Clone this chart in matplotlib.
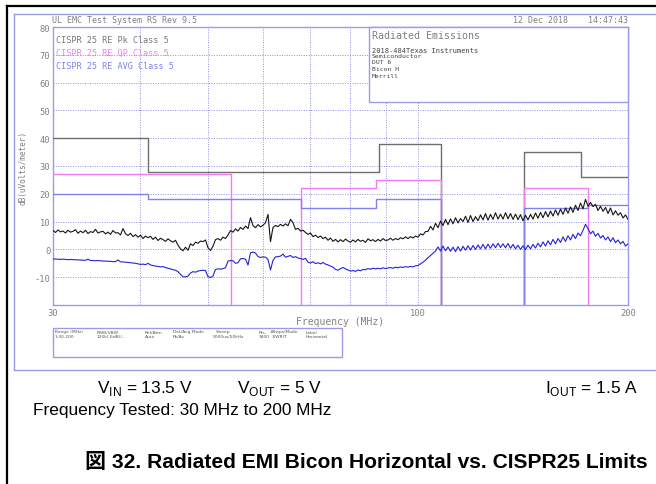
import numpy as np
import matplotlib
matplotlib.use("Agg")
import matplotlib.pyplot as plt
from matplotlib.lines import Line2D
from matplotlib.patches import Rectangle
from matplotlib.ticker import FixedLocator, NullLocator, FixedFormatter

plt.rcParams['mathtext.fontset'] = 'custom'
plt.rcParams['mathtext.rm'] = 'Liberation Sans'

# ---------------- data ----------------
sweep_start_mhz = 30
sweep_stop_mhz = 200

peak_dbuv = [
    6.8, 6.1, 7.0, 6.3, 6.6, 5.9, 6.9, 6.2, 6.5, 7.1,
    5.8, 6.6, 6.0, 6.9, 5.7, 6.4, 6.1, 7.2, 5.9, 6.3,
    6.5, 5.6, 6.2, 5.4, 6.8, 5.9, 6.0, 5.2, 7.5, 5.6,
    5.0, 5.8, 4.6, 5.3, 4.4, 5.1, 3.9, 4.8, 4.2, 4.7,
    3.6, 4.4, 3.2, 4.0, 3.5, 2.9, 3.8, 3.1, 2.6, 3.3,
    1.5, 0.2, -0.5, 0.8, -0.3, 2.0, 1.4, 2.6, 2.2, 3.0,
    2.8, 3.4, 0.6, -0.4, 1.2, 3.5, 3.9, 3.3, 4.4, 3.9,
    5.2, 6.8, 6.2, 7.4, 6.6, 7.9, 7.2, 8.4, 7.5, 11.4,
    8.6, 7.8, 8.9, 8.1, 8.7, 9.6, 12.6, 2.8, 7.9, 8.6,
    8.2, 9.0, 8.4, 9.2, 8.5, 10.8, 9.6, 7.2, 7.6, 6.6,
    6.9, 6.1, 5.4, 5.9, 4.6, 5.1, 4.3, 4.8, 3.9, 4.4,
    3.3, 4.1, 2.9, 3.6, 2.7, 3.5, 2.8, 3.7, 3.0, 2.6,
    3.4, 2.7, 3.6, 2.9, 3.3, 2.5, 3.8, 3.1, 3.5, 2.8,
    3.6, 3.0, 3.9, 3.2, 3.4, 4.0, 3.3, 3.9, 3.5, 4.2,
    3.8, 4.5, 3.9, 4.6, 4.1, 4.8, 4.4, 5.6, 5.2, 6.4,
    6.5, 8.3, 7.0, 9.4, 7.8, 10.2, 8.6, 10.8, 8.9, 11.0,
    9.2, 11.4, 9.5, 11.1, 10.0, 11.9, 9.7, 12.2, 10.0, 11.8,
    10.3, 12.4, 10.6, 12.9, 10.5, 12.6, 10.8, 13.2, 10.9, 12.7,
    10.9, 13.2, 11.0, 12.9, 10.8, 12.7, 10.7, 12.5, 10.3, 12.3,
    10.6, 12.6, 10.9, 13.1, 11.2, 13.3, 11.4, 13.6, 11.7, 13.8,
    12.0, 14.2, 12.3, 14.5, 12.6, 14.9, 13.0, 15.3, 13.3, 15.9,
    14.0, 16.7, 14.6, 18.0, 15.5, 16.9, 15.4, 16.2, 14.0, 15.5,
    13.7, 15.1, 12.9, 14.9, 12.4, 13.9, 12.3, 13.2, 11.3, 12.4, 10.8,
]

avg_dbuv = [
    -3.4, -3.5, -3.5, -3.6, -3.5, -3.6, -3.7, -3.6, -3.7, -3.7,
    -3.8, -3.8, -3.9, -3.9, -3.5, -4.0, -4.0, -4.1, -4.0, -4.1,
    -4.2, -4.2, -4.3, -4.3, -4.4, -4.4, -3.8, -4.5, -4.5, -4.6,
    -4.7, -4.8, -4.9, -5.0, -5.2, -5.4, -5.3, -5.5, -5.0, -5.6,
    -5.8, -6.0, -6.1, -6.3, -6.2, -6.5, -6.8, -7.0, -7.3, -7.5,
    -8.0, -9.0, -9.8, -9.9, -9.6, -8.5, -8.0, -8.2, -7.8, -7.6,
    -7.5, -7.6, -9.8, -10.1, -9.6, -7.2, -7.0, -7.1, -6.9, -6.6,
    -4.2, -4.0, -4.1, -5.0, -4.8, -3.4, -3.3, -3.5, -5.6, -1.2,
    -1.0, -1.3, -2.6, -2.9, -2.7, -2.8, -3.6, -7.4, -3.9, -2.7,
    -2.6, -2.4, -1.7, -2.8, -2.5, -2.2, -2.9, -2.6, -3.1, -3.3,
    -3.6, -3.2, -4.6, -4.9, -4.4, -5.1, -4.8, -5.2, -4.7, -5.3,
    -5.6, -6.0, -6.4, -7.2, -7.5, -6.9, -6.5, -7.0, -7.4, -7.8,
    -7.6, -7.9, -7.4, -7.7, -7.2, -7.3, -6.9, -7.1, -6.8, -7.0,
    -6.8, -7.0, -6.6, -6.9, -6.7, -6.5, -6.8, -6.4, -6.6, -6.3,
    -6.5, -6.2, -6.4, -6.1, -6.3, -5.9, -5.8, -5.2, -4.6, -3.9,
    -3.0, -2.2, -1.4, -0.6, 0.9, -0.6, 1.2, -0.5, 0.9, -0.7,
    0.8, -0.8, 1.0, -0.6, 1.1, -0.3, 1.3, -0.2, 1.4, 0.0,
    1.6, 0.2, 1.8, 0.2, 1.9, 0.4, 2.0, 0.6, 2.2, 0.7,
    2.0, 0.6, 2.1, 0.4, 1.8, 0.2, 1.5, 0.0, 1.3, -0.1,
    1.5, 0.2, 1.8, 0.5, 2.2, 0.9, 2.7, 1.2, 3.1, 1.7,
    3.6, 2.0, 3.9, 2.5, 4.5, 2.9, 4.9, 3.4, 5.4, 3.9,
    5.9, 4.9, 6.9, 9.0, 7.5, 5.6, 6.6, 4.7, 5.8, 4.1,
    5.0, 3.4, 4.5, 2.8, 4.2, 2.4, 3.4, 2.0, 2.9, 1.2, 2.0,
]

# limit lines (step outlines, -20 = drop to the bottom of the plot)
pk_limit_f = [30, 41, 41, 88, 88, 108, 108]
pk_limit_db = [40, 40, 28, 28, 38, 38, -20]
pk_limit2_f = [142, 142, 171, 171, 200]
pk_limit2_db = [-20, 35, 35, 26, 26]

qp_limit_f = [30, 54, 54]
qp_limit_db = [27, 27, -20]
qp_limit2_f = [68, 68, 87, 87, 108, 108]
qp_limit2_db = [-20, 22, 22, 25, 25, -20]
qp_limit3_f = [142, 142, 175, 175]
qp_limit3_db = [-20, 22, 22, -20]

av_limit_f = [30, 41, 41, 68, 68, 87, 87, 108, 108]
av_limit_db = [20, 20, 18, 18, 15, 15, 18, 18, -20]
av_limit2_f = [142, 142, 175, 175, 200]
av_limit2_db = [-20, 15, 15, 16, 16]

y_ticks = [-10, 0, 10, 20, 30, 40, 50, 60, 70, 80]
x_ticks = [30, 100, 200]
x_grid = [40, 50, 60, 70, 80, 90, 100]

freq_mhz = np.geomspace(sweep_start_mhz, sweep_stop_mhz, len(peak_dbuv))

# ---------------- figure ----------------
W, H = 656, 485
fig = plt.figure(figsize=(W / 100, H / 100), dpi=100)


def fx(x):
    return x / W


def fy(y):
    return 1 - y / H


LAV = '#9a9ae6'
GRID = '#8f8fe0'
TXT = '#808080'
MONO = 'DejaVu Sans Mono'

# outer borders
fig.add_artist(Line2D([fx(7), fx(7)], [fy(7), fy(485)], color='black', lw=1.6))
fig.add_artist(Line2D([fx(7), fx(656)], [fy(7), fy(7)], color='black', lw=1.6))
fig.add_artist(Line2D([fx(14), fx(14)], [fy(15), fy(371)], color=LAV, lw=1.0))
fig.add_artist(Line2D([fx(14), fx(656)], [fy(15), fy(15)], color=LAV, lw=1.0))
fig.add_artist(Line2D([fx(14), fx(656)], [fy(371), fy(371)], color=LAV, lw=1.0))

ax = fig.add_axes([fx(53), fy(306), fx(628) - fx(53), fy(28) - fy(306)])
ax.set_xscale('log')
ax.set_xlim(sweep_start_mhz, sweep_stop_mhz)
ax.set_ylim(-20, 80)
for s in ax.spines.values():
    s.set_color(LAV)
    s.set_linewidth(1.0)

for g in y_ticks[:-1]:
    ax.axhline(g, color=GRID, lw=0.7, ls=(0, (1, 1.5)), zorder=1)
for g in x_grid:
    ax.axvline(g, color=GRID, lw=0.7, ls=(0, (1, 1.5)), zorder=1)

ax.xaxis.set_major_locator(FixedLocator(x_ticks))
ax.xaxis.set_major_formatter(FixedFormatter([str(v) for v in x_ticks]))
ax.xaxis.set_minor_locator(NullLocator())
ax.yaxis.set_major_locator(FixedLocator(y_ticks))
ax.yaxis.set_major_formatter(FixedFormatter([str(v) for v in y_ticks]))
ax.tick_params(length=0, labelsize=6.3, labelcolor=TXT, pad=2)
for lab in ax.get_xticklabels() + ax.get_yticklabels():
    lab.set_family(MONO)

# limits
PK_C, QP_C, AV_C = '#6e6e6e', '#f07cf0', '#8080ee'
ax.plot(pk_limit_f, pk_limit_db, color=PK_C, lw=1.0, zorder=3)
ax.plot(pk_limit2_f, pk_limit2_db, color=PK_C, lw=1.0, zorder=3)
ax.plot(qp_limit_f, qp_limit_db, color=QP_C, lw=1.0, zorder=3)
ax.plot(qp_limit2_f, qp_limit2_db, color=QP_C, lw=1.0, zorder=3)
ax.plot(qp_limit3_f, qp_limit3_db, color=QP_C, lw=1.0, zorder=3)
ax.plot(av_limit_f, av_limit_db, color=AV_C, lw=1.0, zorder=3)
ax.plot(av_limit2_f, av_limit2_db, color=AV_C, lw=1.0, zorder=3)

# traces
ax.plot(freq_mhz, peak_dbuv, color='#151515', lw=0.8, zorder=4)
ax.plot(freq_mhz, avg_dbuv, color='#2323d8', lw=0.8, zorder=4)

# legend-like labels
fig.text(fx(56), fy(40.7), 'CISPR 25 RE Pk Class 5', color='#777777', family=MONO, fontsize=6.1, va='center')
fig.text(fx(56), fy(53.3), 'CISPR 25 RE QP Class 5', color=QP_C, family=MONO, fontsize=6.1, va='center')
fig.text(fx(56), fy(66.7), 'CISPR 25 RE AVG Class 5', color=AV_C, family=MONO, fontsize=6.1, va='center')

fig.text(fx(52), fy(20.7), 'UL EMC Test System RS Rev 9.5', color=TXT, family=MONO, fontsize=6.0, va='center')
fig.text(fx(628), fy(20.7), '12 Dec 2018    14:47:43', color=TXT, family=MONO, fontsize=6.0, va='center', ha='right')

fig.text(fx(23), fy(168), 'dB(uVolts/meter)', color=TXT, family=MONO, fontsize=5.6, va='center', ha='center', rotation=90)
fig.text(fx(340), fy(322), 'Frequency (MHz)', color=TXT, family=MONO, fontsize=7, va='center', ha='center')

# annotation box
fig.add_artist(Rectangle((fx(369), fy(103)), fx(628) - fx(369), fy(28) - fy(103),
                         transform=fig.transFigure, fill=True, facecolor='white', edgecolor=LAV, lw=1.0, zorder=5))
fig.text(fx(372), fy(35.7), 'Radiated Emissions', color=TXT, family=MONO, fontsize=7.2, va='center', zorder=6)
fig.text(fx(372), fy(50.7), '2018-484Texas Instruments', color='#444444', family=MONO, fontsize=5.0, va='center', zorder=6)
for yy, t in zip([56.7, 63.0, 70.0, 77.0], ['Semiconductor', 'DUT 6', 'Bicon H', 'Merrill']):
    fig.text(fx(372), fy(yy), t, color='#444444', family=MONO, fontsize=4.6, va='center', zorder=6)

# info box
fig.add_artist(Rectangle((fx(53), fy(358)), fx(342) - fx(53), fy(329) - fy(358),
                         transform=fig.transFigure, fill=False, edgecolor=LAV, lw=1.0))
info_cols = [55, 97, 145, 173, 216, 259, 270, 306]
info_heads = ['Range (MHz)', 'RBW/VBW', 'Ref/Attn', 'Det/Avg Mode', 'Sweep', 'Pts.', '#Swps/Mode', 'Label']
info_vals = ['1:30-200', '120k(-6dB)/--', 'Auto', 'Pk/Av', '5000us/50kHz', '3400', '1/WRIT', 'Horizontal']
info_val_x = [55, 97, 145, 173, 213, 259, 272, 306]
for xx, h1 in zip(info_cols, info_heads):
    fig.text(fx(xx), fy(332.5), h1, color='#555555', family='DejaVu Sans', fontsize=3.2, va='center')
for xx, v1 in zip(info_val_x, info_vals):
    fig.text(fx(xx), fy(337.5), v1, color='#555555', family='DejaVu Sans', fontsize=3.2, va='center')

# document text
SANS = ['Liberation Sans', 'Noto Sans CJK JP']
fig.text(fx(97), fy(389), r'V$_{\mathrm{IN}}$ = 13.5 V', family=SANS, fontsize=12.4, va='center')
fig.text(fx(237), fy(389), r'V$_{\mathrm{OUT}}$ = 5 V', family=SANS, fontsize=12.4, va='center')
fig.text(fx(545), fy(389), r'I$_{\mathrm{OUT}}$ = 1.5 A', family=SANS, fontsize=12.4, va='center')
fig.text(fx(33), fy(411), 'Frequency Tested: 30 MHz to 200 MHz', family=SANS, fontsize=12.4, va='center')
fig.text(fx(85), fy(463), '図 32. Radiated EMI Bicon Horizontal vs. CISPR25 Limits', family=SANS,
         fontsize=15.1, fontweight='bold', va='center')

fig.savefig('out.png', dpi=100)
